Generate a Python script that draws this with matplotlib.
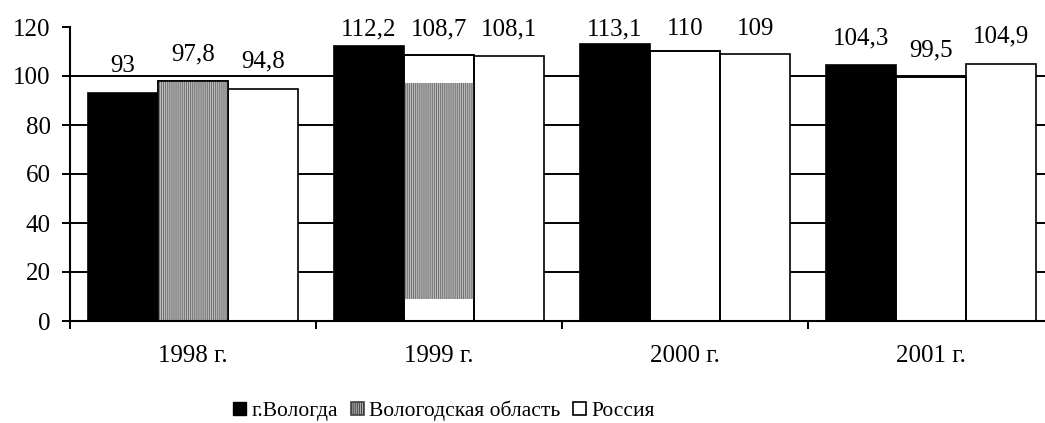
import numpy as np
import matplotlib.pyplot as plt
import matplotlib.patches as mpatches

# data
years = ['1998 г.', '1999 г.', '2000 г.', '2001 г.']
vologda_city = [93, 112.2, 113.1, 104.3]
vologda_region = [97.8, 108.7, 110, 99.5]
russia = [94.8, 108.1, 109, 104.9]
series_names = ['г.Вологда', 'Вологодская область', 'Россия']
# part of the regional bars that carries the grey pattern in the scan
region_fill_lo = [0, 9, np.nan, np.nan]
region_fill_hi = [97.8, 97, np.nan, np.nan]

plt.rcParams['font.family'] = ['Liberation Serif', 'DejaVu Serif']
plt.rcParams['font.size'] = 18
plt.rcParams['hatch.linewidth'] = 0.7

fig = plt.figure(figsize=(10.45, 4.23), dpi=100)
ax = fig.add_axes([70 / 1045, 102 / 423, 984 / 1045, 294 / 423])

x = np.arange(len(years)) + 0.5
w = 0.285
edge = dict(edgecolor='black', linewidth=1.2)

ax.bar(x - w, vologda_city, w, color='black', zorder=2, **edge)
ax.bar(x, vologda_region, w, color='white', zorder=2, **edge)
lo = np.array(region_fill_lo)
hi = np.array(region_fill_hi)
ax.bar(x, hi - lo, w, bottom=lo, facecolor='#bdbdbd', edgecolor='#6e6e6e',
       hatch='||||||||', linewidth=0, zorder=2.5)
ax.bar(x, vologda_region, w, facecolor='none', zorder=3, **edge)
ax.bar(x + w, russia, w, color='white', zorder=2, **edge)

# value labels
for off, vals in zip([-w, 0, w], [vologda_city, vologda_region, russia]):
    for xi, v in zip(x + off, vals):
        ax.text(xi, min(v + 8.6, 116.7), str(v).replace('.', ','),
                ha='center', va='baseline', zorder=4)

ax.set_ylim(0, 120)
ax.set_xlim(0, 4)
ax.set_yticks(np.arange(0, 121, 20))
ax.yaxis.grid(True, color='black', linewidth=1.4)
ax.set_axisbelow(True)
ax.get_ygridlines()[-1].set_visible(False)

ax.set_xticks(np.arange(0, 5))
ax.set_xticklabels([])
ax.set_xticks(x, minor=True)
ax.set_xticklabels(years, minor=True)
ax.tick_params(axis='x', which='minor', length=0, pad=17)
ax.tick_params(axis='x', which='major', length=6, width=1.4, direction='out')
ax.tick_params(axis='y', length=6, width=1.4, pad=8)

for s in ['top', 'right']:
    ax.spines[s].set_visible(False)
for s in ['left', 'bottom']:
    ax.spines[s].set_linewidth(1.5)

handles = [
    mpatches.Patch(facecolor='black', edgecolor='black'),
    mpatches.Patch(facecolor='#b0b0b0', edgecolor='#404040', hatch='||||||||', linewidth=1.2),
    mpatches.Patch(facecolor='white', edgecolor='black', linewidth=1.2),
]
fig.legend(handles, series_names, loc='center', bbox_to_anchor=(444 / 1045, 1 - 411 / 423),
           ncol=3, frameon=False, fontsize=15.5, handlelength=0.6, handleheight=0.6,
           handletextpad=0.25, columnspacing=0.6, borderpad=0)

fig.savefig('out.png', dpi=100)
